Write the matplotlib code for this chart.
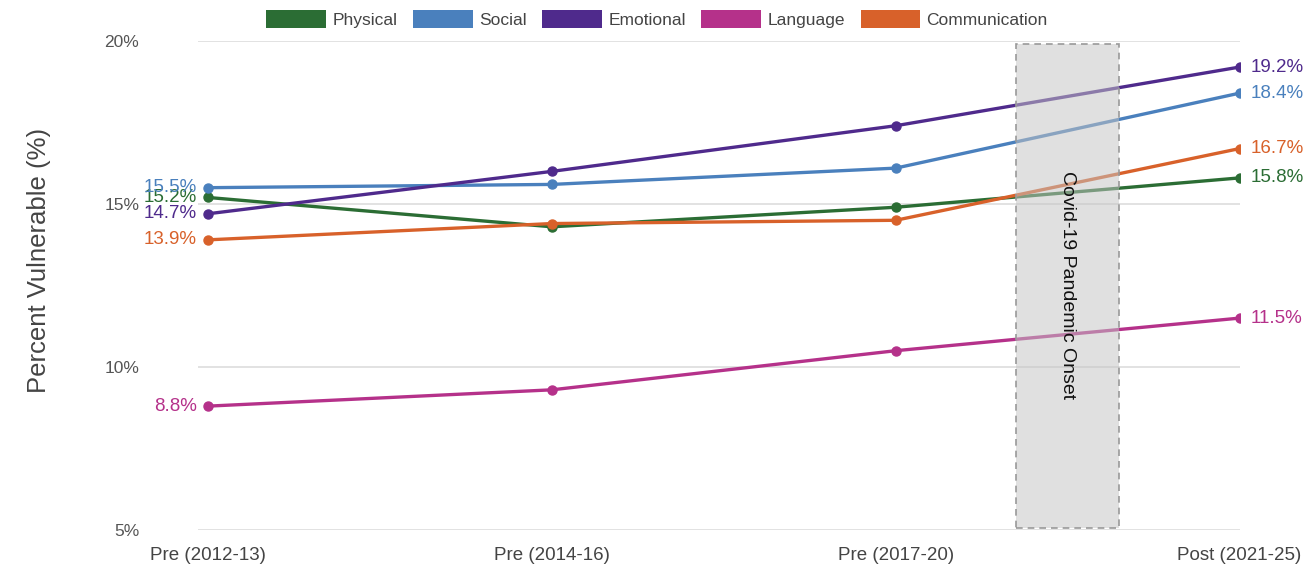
import matplotlib
matplotlib.use("Agg")
import matplotlib.pyplot as plt
from matplotlib.patches import Patch, Rectangle

plt.rcParams['font.family'] = ['Liberation Sans', 'DejaVu Sans']

# data
periods = ["Pre (2012-13)", "Pre (2014-16)", "Pre (2017-20)", "Post (2021-25)"]
physical = [15.2, 14.3, 14.9, 15.8]
social = [15.5, 15.6, 16.1, 18.4]
emotional = [14.7, 16.0, 17.4, 19.2]
language = [8.8, 9.3, 10.5, 11.5]
communication = [13.9, 14.4, 14.5, 16.7]

names = ["Physical", "Social", "Emotional", "Language", "Communication"]
colors = ["#2b6d34", "#4a80bd", "#4f2a8c", "#b5318a", "#d8612a"]
series = [physical, social, emotional, language, communication]

# shaded covid window (in category units) and y ticks
covid_x = (2.35, 2.65)
covid_y = (5.05, 19.9)
yticks = [5, 10, 15, 20]

fig = plt.figure(figsize=(13.09, 5.69), dpi=100)
ax = fig.add_axes([0.151, 0.0685, 0.796, 0.8595])

x = list(range(len(periods)))
for vals, col in zip(series, colors):
    ax.plot(x, vals, color=col, lw=2.4, marker="o", ms=6.5, zorder=3,
            solid_capstyle="round")
    ax.annotate(f"{vals[0]:.1f}%", (x[0], vals[0]), xytext=(-8, 0),
                textcoords="offset points", ha="right", va="center",
                color=col, fontsize=13.5)
    ax.annotate(f"{vals[-1]:.1f}%", (x[-1], vals[-1]), xytext=(8, 0),
                textcoords="offset points", ha="left", va="center",
                color=col, fontsize=13.5)

# covid band drawn over the lines so they look faded inside it
ax.add_patch(Rectangle((covid_x[0], covid_y[0]), covid_x[1] - covid_x[0],
                       covid_y[1] - covid_y[0], facecolor="#c4c4c4", alpha=0.52,
                       edgecolor="none", zorder=4))
ax.add_patch(Rectangle((covid_x[0], covid_y[0]), covid_x[1] - covid_x[0],
                       covid_y[1] - covid_y[0], facecolor="none",
                       edgecolor="#999999", lw=1.2, ls=(0, (4, 3)), zorder=5))
ax.text(sum(covid_x) / 2, 12.5, "Covid-19 Pandemic Onset", rotation=-90,
        ha="center", va="center", fontsize=14, color="#111111", zorder=6)

ax.set_xlim(-0.03, 3.0)
ax.set_ylim(5, 20)
ax.set_yticks(yticks)
ax.set_yticklabels([f"{t}%" for t in yticks])
ax.set_xticks(x)
ax.set_xticklabels(periods)
ax.tick_params(axis="y", length=0, pad=42, labelsize=12.5, labelcolor="#555555")
ax.tick_params(axis="x", length=0, pad=12, labelsize=13.5, labelcolor="#444444")
ax.grid(axis="y", color="#dddddd", lw=1.2, zorder=0)
for s in ax.spines.values():
    s.set_visible(False)
ax.set_ylabel("Percent Vulnerable (%)", fontsize=18.5, color="#444444")
ax.yaxis.set_label_coords(-0.141, 0.552)

handles = [Patch(facecolor=c, edgecolor="none", label=n) for n, c in zip(names, colors)]
fig.legend(handles=handles, loc="center", bbox_to_anchor=(0.502, 0.967), ncol=5,
           frameon=False, fontsize=12.5, handlelength=3.45, handleheight=1.2,
           handletextpad=0.35, columnspacing=0.9, labelcolor="#444444")

fig.savefig("out.png", dpi=100)
